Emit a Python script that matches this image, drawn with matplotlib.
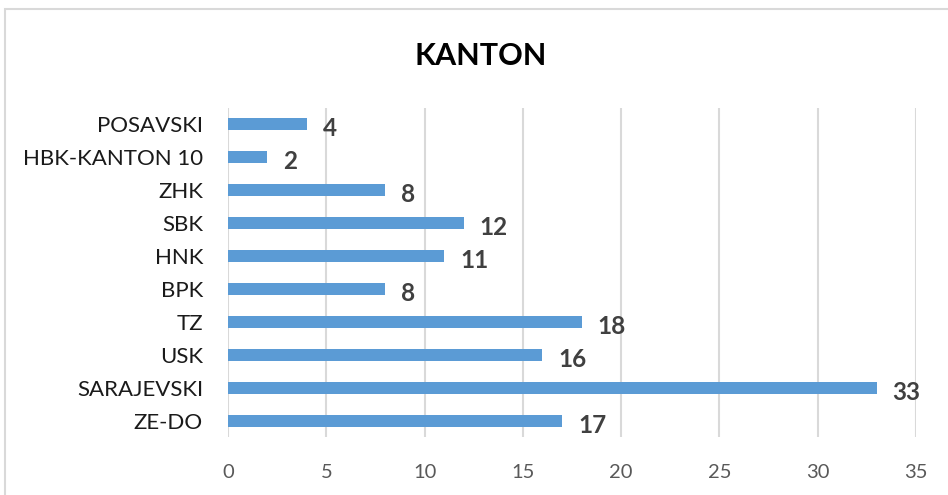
import matplotlib.pyplot as plt
from matplotlib.patches import Rectangle

# data
kantoni = ['POSAVSKI', 'HBK-KANTON 10', 'ZHK', 'SBK', 'HNK', 'BPK',
           'TZ', 'USK', 'SARAJEVSKI', 'ZE-DO']
broj = [4, 2, 8, 12, 11, 8, 18, 16, 33, 17]
x_ticks = [0, 5, 10, 15, 20, 25, 30, 35]

plt.rcParams['font.family'] = ['Lato', 'DejaVu Sans']

fig = plt.figure(figsize=(9.48, 4.95), dpi=100)
ax = fig.add_axes([0.2405, 0.1162, 0.7257, 0.6666])

# chart frame (cut off at right and bottom in the reference)
fig.patches.append(Rectangle((4.5 / 948, -0.1), 2.0, (495 - 8.5) / 495 + 0.1,
                             transform=fig.transFigure, fill=False,
                             edgecolor='#d9d9d9', linewidth=1.5))

y = list(range(len(kantoni)))
ax.barh(y, broj, height=0.37, color='#5b9bd5', zorder=3)

for yi, v in zip(y, broj):
    ax.annotate(str(v), (v, yi), xytext=(11.5, -3.5), textcoords='offset points',
                ha='left', va='center', fontsize=17.5, fontweight='bold',
                color='#404040')

ax.set_xlim(0, 35)
ax.set_ylim(len(kantoni) - 0.5, -0.5)
ax.set_xticks(x_ticks)
ax.set_yticks(y)
ax.set_yticklabels(kantoni, fontsize=16, color='#1a1a1a')
ax.tick_params(axis='x', labelsize=14.5, labelcolor='#595959', length=0, pad=19)
ax.tick_params(axis='y', length=0, pad=18)
ax.grid(axis='x', color='#d9d9d9', linewidth=1.5, zorder=0)
ax.set_axisbelow(True)
for s in ax.spines.values():
    s.set_visible(False)

fig.text(481 / 948, 1 - 56 / 495, 'KANTON', ha='center', va='center',
         fontsize=22, fontweight='bold', color='black')

fig.savefig('out.png', dpi=100)
